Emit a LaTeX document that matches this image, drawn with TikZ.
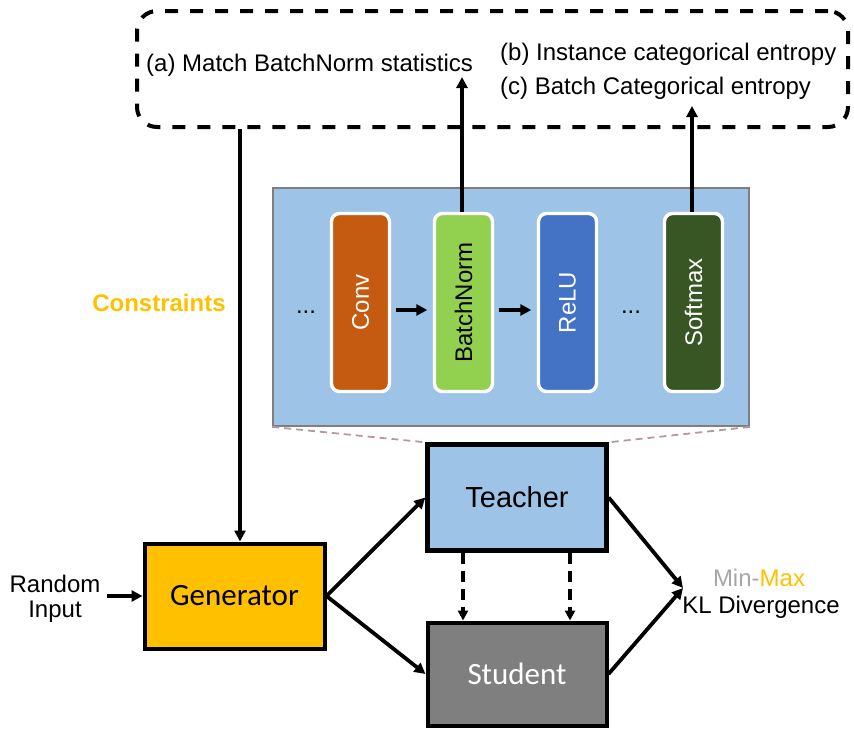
\documentclass[tikz,border=0pt]{standalone}
\usepackage{fontspec}
\setmainfont{Liberation Sans}
\newfontfamily\calib{Carlito}
\usetikzlibrary{arrows.meta}

\definecolor{panelblue}{HTML}{9DC3E6}
\definecolor{gold}{HTML}{FFC000}
\definecolor{convc}{HTML}{C55A11}
\definecolor{bnc}{HTML}{92D050}
\definecolor{reluc}{HTML}{4472C4}
\definecolor{softc}{HTML}{375623}
\definecolor{studc}{HTML}{7F7F7F}
\definecolor{mingray}{HTML}{A6A6A6}
\definecolor{zoomline}{HTML}{B8959F}

\tikzset{
  arr/.style={line width=3.8pt, -{Triangle[length=11pt,width=11pt]}},
  darr/.style={line width=3.3pt, dash pattern=on 11pt off 7pt, -{Triangle[length=10pt,width=10pt]}},
  txt/.style={inner sep=0pt, font=\fontsize{24}{25}\selectfont},
  layer/.style={draw=white, line width=3.4pt, rounded corners=8pt,
    minimum width=58pt, minimum height=178pt, inner sep=0pt},
  bigbox/.style={draw=black, inner sep=0pt},
  zoomdash/.style={draw=zoomline, line width=1.8pt, dash pattern=on 7pt off 5pt},
}

\begin{document}
\begin{tikzpicture}[x=1pt, y=-1pt]
\useasboundingbox (0,0) rectangle (854,729);

% constraint box at the top
\node[draw=black, line width=4pt, dash pattern=on 13pt off 12pt,
      rounded corners=20pt, minimum width=711pt, minimum height=116pt,
      inner sep=0pt] (cbox) at (492.5,69) {};
\node[txt, anchor=west] (ta) at (146,65) {(a) Match BatchNorm statistics};
\node[txt, anchor=west] (tb) at (500,54) {(b) Instance categorical entropy};
\node[txt, anchor=west] (tc) at (500,88) {(c) Batch Categorical entropy};

% teacher network detail
\node[fill=panelblue, draw=studc, line width=1.8pt, minimum width=476pt,
      minimum height=238pt, inner sep=0pt] (panel) at (511,307) {};
\node[layer, fill=convc, label={[rotate=90, txt, text=white]center:Conv}] (conv) at (360.5,302.5) {};
\node[layer, fill=bnc, label={[rotate=90, txt, text=black]center:BatchNorm}] (bn) at (463.5,302.5) {};
\node[layer, fill=reluc, label={[rotate=90, txt, text=white]center:ReLU}] (relu) at (567.5,302.5) {};
\node[layer, fill=softc, label={[rotate=90, txt, text=white]center:Softmax}] (soft) at (693.5,302.5) {};
\node[txt] (dots1) at (306,312) {...};
\node[txt] (dots2) at (631,312) {...};

\draw[arr, shorten <=4.5pt, shorten >=5.5pt] ([yshift=-7.5pt]conv.east) -- ([yshift=-7.5pt]bn.west);
\draw[arr, shorten <=4.5pt, shorten >=5.5pt] ([yshift=-7.5pt]bn.east) -- ([yshift=-7.5pt]relu.west);

\coordinate (bntip) at (462,77);
\coordinate (sftip) at (692,106);
\draw[arr] (bn.north -| bntip) -- (bntip);
\draw[arr] (soft.north -| sftip) -- (sftip);

% main blocks
\node[bigbox, fill=gold, line width=4pt, minimum width=180pt, minimum height=105pt,
      font=\calib\fontsize{31}{31}\selectfont] (gen) at (234.5,596) {Generator};
\node[bigbox, fill=panelblue, line width=4.4pt, minimum width=179pt, minimum height=106pt,
      font=\fontsize{29}{29}\selectfont] (teacher) at (517,497.5) {Teacher};
\node[bigbox, fill=studc, line width=4pt, minimum width=179pt, minimum height=103pt,
      text=white, font=\calib\fontsize{31}{31}\selectfont] (student) at (517,674) {Student};

\draw[zoomdash] (panel.south west) -- (teacher.north west);
\draw[zoomdash] (panel.south east) -- (teacher.north east);

% labels
\node[txt, text=gold, font=\bfseries\fontsize{24}{25}\selectfont] (constr) at (159,303) {Constraints};
\node[txt, align=center] (rand) at (55,599) {Random\\Input};
\node[txt] (minmax) at (759,578) {\textcolor{mingray}{Min-}\textcolor{gold}{Max}};
\node[txt] (kl) at (761,607) {KL Divergence};

% connectors
\coordinate (gin) at ([xshift=5.5pt]gen.north);
\draw[arr, line width=3.3pt] (cbox.south -| gin) -- (gin);
\coordinate (rin) at (107,596);
\draw[arr] (rin) -- (gen.west);
\draw[arr] (gen.east) -- (teacher.west);
\draw[arr] (gen.east) -- (student.west);
\coordinate (klin) at (683,588);
\draw[arr] (teacher.east) -- (klin);
\draw[arr] (student.east) -- (klin);
\draw[darr] ([xshift=-54pt]teacher.south) -- ([xshift=-54pt]student.north);
\draw[darr] ([xshift=53pt]teacher.south) -- ([xshift=53pt]student.north);
\end{tikzpicture}
\end{document}
